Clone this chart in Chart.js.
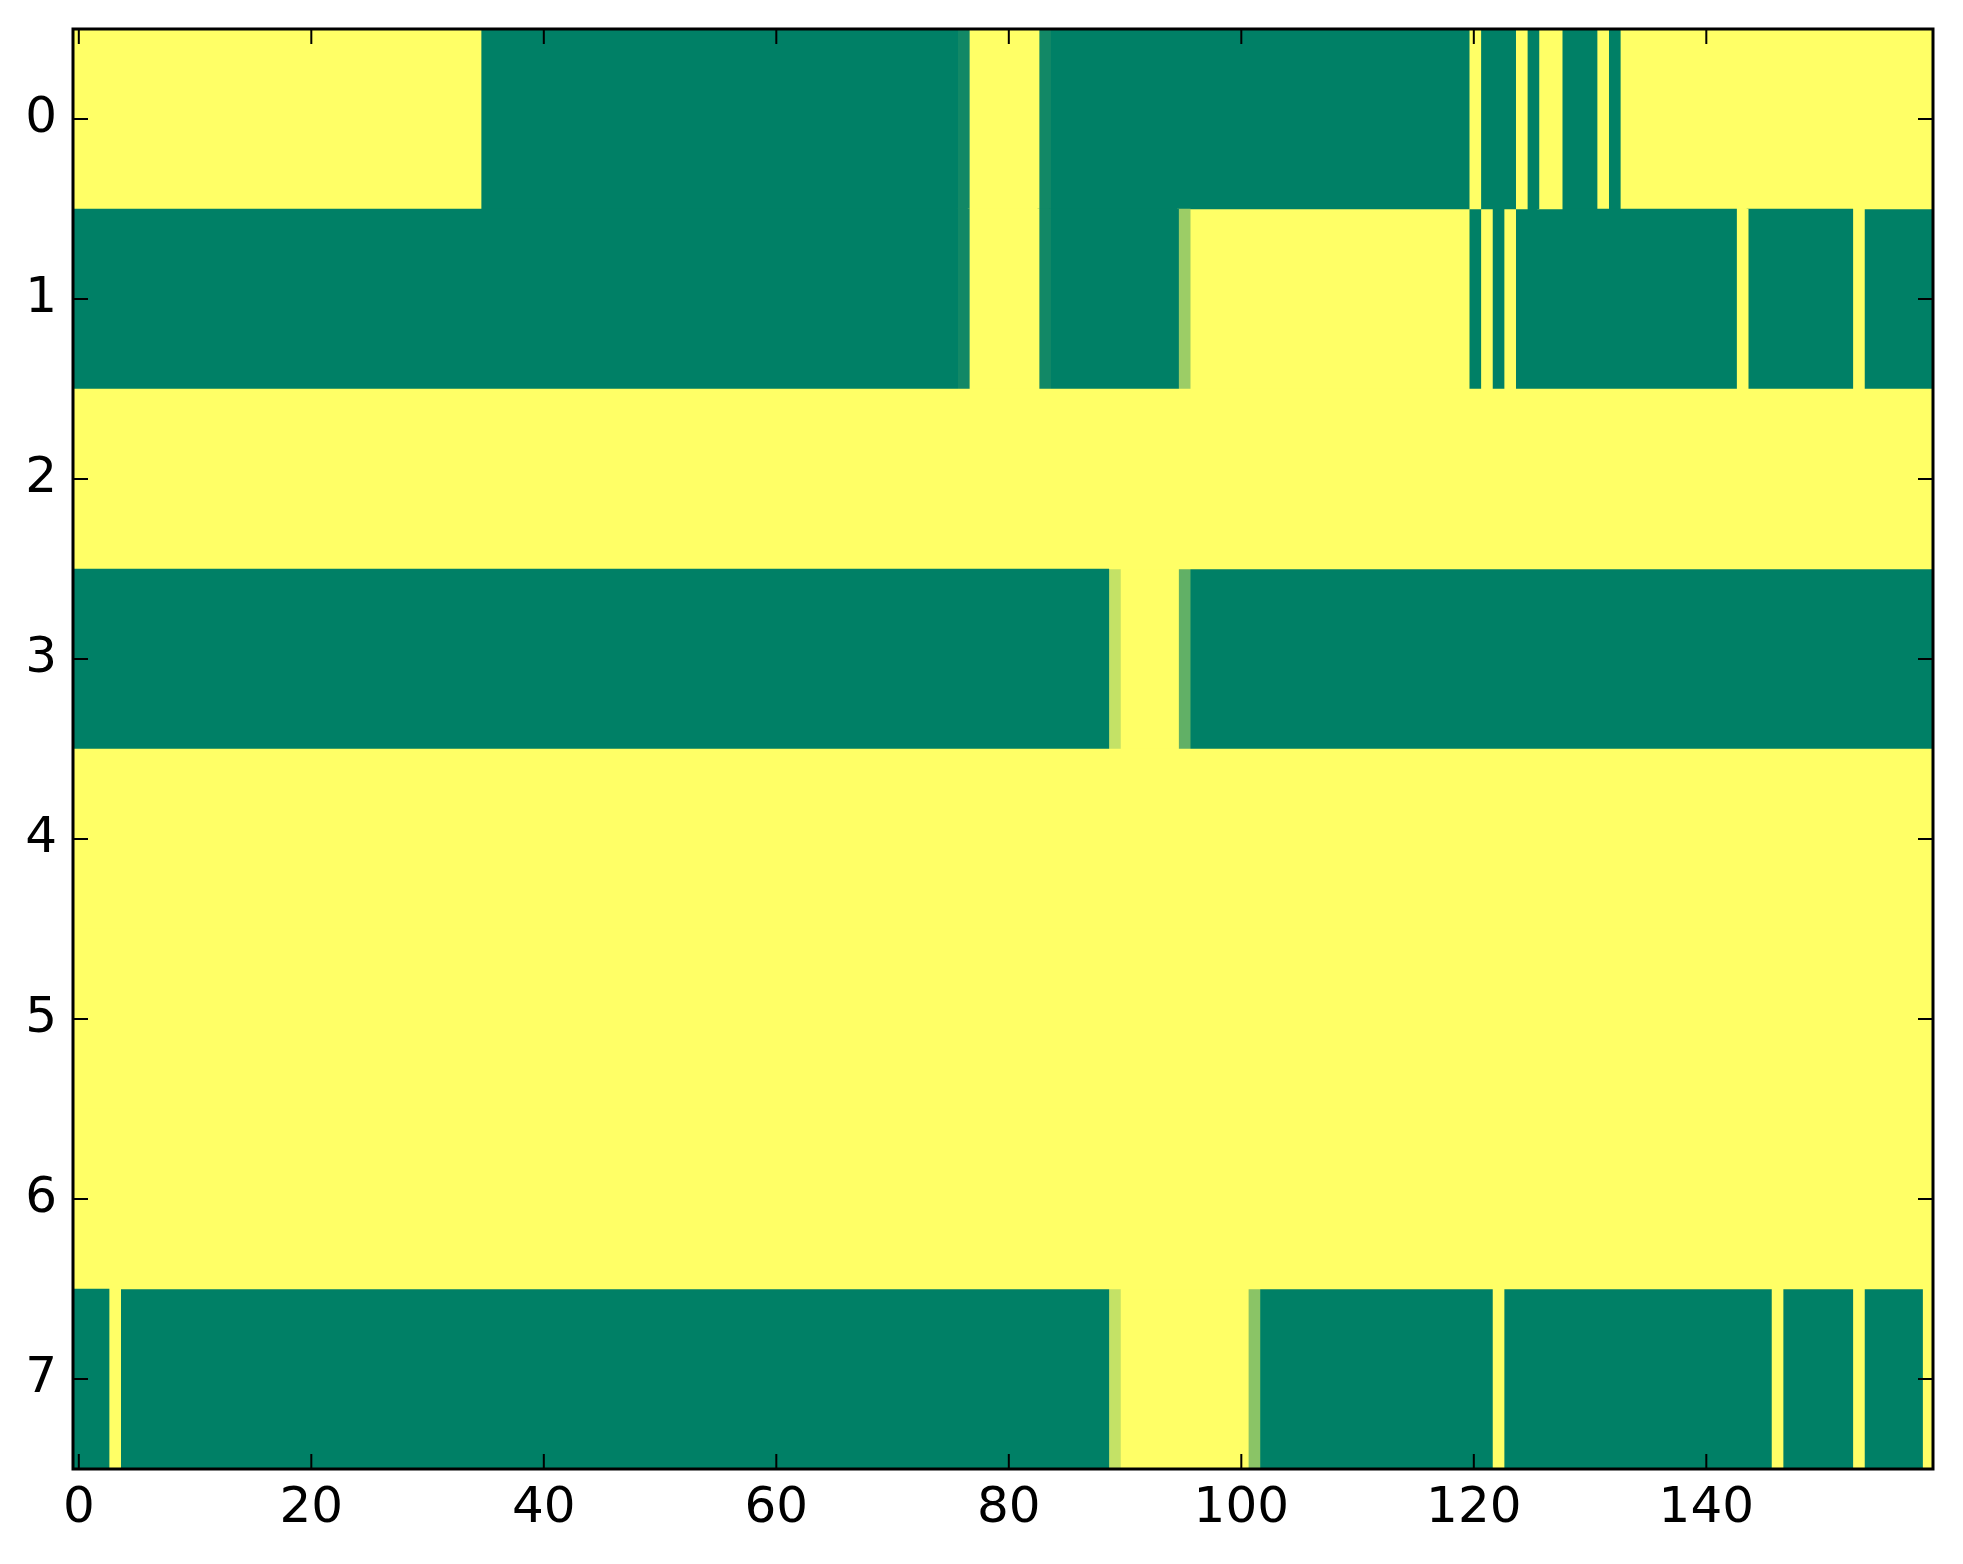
<!DOCTYPE html>
<html>
<head>
<meta charset="utf-8">
<script src="https://cdn.jsdelivr.net/npm/chart.js"></script>
<style>
body{margin:0;background:#fff}
#wrap{width:1963px;height:1564px;position:relative}
</style>
</head>
<body>
<div id="wrap"><canvas id="heat"></canvas></div>
<script>
// image rows, left to right, as runs of [value, number of columns] (160 columns each)
var rowLabels = ['0','1','2','3','4','5','6','7']
var xTicks = [0,20,40,60,80,100,120,140]

var row0 = [[1,35],[0,41],[0.07,1],[1,6],[0.07,1],[0,36],[1,1],[0,3],[1,1],[0,1],[1,2],[0,3],[1,1],[0,1],[1,27]]
var row1 = [[0,76],[0.07,1],[1,6],[0.07,1],[0,11],[0.61,1],[1,24],[0,1],[1,1],[0,1],[1,1],[0,19],[1,1],[0,9],[1,1],[0,6]]
var row2 = [[1,160]]
var row3 = [[0,89],[0.77,1],[1,5],[0.38,1],[0,64]]
var row4 = [[1,160]]
var row5 = [[1,160]]
var row6 = [[1,160]]
var row7 = [[0,3],[1,1],[0,85],[0.77,1],[1,11],[0.54,1],[0,20],[1,1],[0,23],[1,1],[0,6],[1,1],[0,5],[1,1]]

var rows = [row0,row1,row2,row3,row4,row5,row6,row7]

//matplotlib "summer" colormap
function summer(v){
  return 'rgb(' + Math.round(255*v) + ',' + Math.round(255*(0.5+v/2)) + ',102)'
}

// dataset k holds the k-th run of every row (floating bars)
var maxRuns = Math.max.apply(null, rows.map(function(r){return r.length}))
var datasets = []
for (var k=0;k<maxRuns;k++){
  var data = [], colors = []
  for (var r=0;r<rows.length;r++){
    if (k >= rows[r].length){ data.push(null); colors.push('rgba(0,0,0,0)'); continue }
    var start = 0
    for (var j=0;j<k;j++) start += rows[r][j][1]
    // run reaches a bit into the next one (which is drawn on top) so no seam shows
    data.push([start-0.5, start+rows[r][k][1]-0.5+0.1])
    colors.push(summer(rows[r][k][0]))
  }
  datasets.push({
    data: data,
    backgroundColor: colors,
    borderWidth: 0,
    grouped: false,
    barPercentage: 1,
    categoryPercentage: 1,
    clip: 0
  })
}

// inward ticks on all four sides + black frame, like matplotlib classic
var frameTicks = {
  id: 'frameTicks',
  afterDraw: function(chart){
    var ctx = chart.ctx, a = chart.chartArea
    var xs = chart.scales.x, ys = chart.scales.y
    ctx.save()
    ctx.strokeStyle = '#000'
    ctx.lineWidth = 2
    ctx.beginPath()
    xTicks.forEach(function(v){
      var px = xs.getPixelForValue(v)
      ctx.moveTo(px, a.bottom); ctx.lineTo(px, a.bottom-15)
      ctx.moveTo(px, a.top); ctx.lineTo(px, a.top+15)
    })
    rowLabels.forEach(function(l,i){
      var py = ys.getPixelForValue(i)
      ctx.moveTo(a.left, py); ctx.lineTo(a.left+15, py)
      ctx.moveTo(a.right, py); ctx.lineTo(a.right-15, py)
    })
    ctx.stroke()
    ctx.lineWidth = 3
    ctx.strokeRect(a.left, a.top, a.right-a.left, a.bottom-a.top)
    ctx.restore()
  }
}

var tickFont = {family: 'DejaVu Sans', size: 50}

var ctx = document.getElementById('heat')
var heatChart = new Chart(ctx, {
  type: 'bar',
  data: {
    labels: rowLabels,
    datasets: datasets
  },
  options: {
    indexAxis: 'y',
    responsive: true,
    maintainAspectRatio: false,
    animation: false,
    layout: {padding: {top: 29, right: 30, left: 0, bottom: 0}},
    plugins: {legend: {display: false}, tooltip: {enabled: false}},
    scales: {
      x: {
        type: 'linear',
        position: 'bottom',
        min: -0.5,
        max: 159.5,
        grid: {display: false, drawTicks: false},
        border: {display: false},
        ticks: {font: tickFont, color: '#000', padding: 10, maxRotation: 0},
        afterBuildTicks: function(scale){
          scale.ticks = xTicks.map(function(v){return {value: v}})
        },
        afterFit: function(scale){
          scale.height = 95
          scale.paddingLeft = 0; scale.paddingRight = 0
        }
      },
      y: {
        type: 'category',
        grid: {display: false, drawTicks: false},
        border: {display: false},
        ticks: {font: tickFont, color: '#000', padding: 16},
        afterFit: function(scale){
          scale.width = 73
          scale.paddingTop = 0; scale.paddingBottom = 0
        }
      }
    }
  },
  plugins: [frameTicks]
})
</script>
</body>
</html>
